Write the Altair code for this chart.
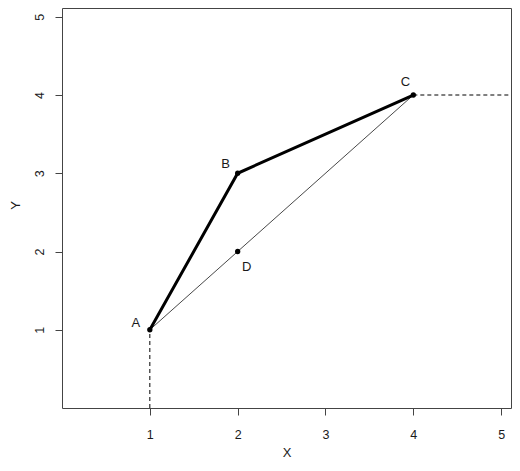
import altair as alt
import pandas as pd

# point data
pt_label = ["A", "B", "C", "D"]
pt_x = [1, 2, 4, 2]
pt_y = [1, 3, 4, 2]

# thick polyline A-B-C
thick_x = [1, 2, 4]
thick_y = [1, 3, 4]
# thin line A-C
thin_x = [1, 4]
thin_y = [1, 4]
# dashed guides
vdash_x = [1, 1]
vdash_y = [0, 1]
hdash_x = [4, 5.112]
hdash_y = [4, 4]

x_ticks = [1, 2, 3, 4, 5]
y_ticks = [1, 2, 3, 4, 5]

FONT = "Liberation Sans"
TXT = "#1a1a1a"
AX = "#444444"

pts = pd.DataFrame({"label": pt_label, "x": pt_x, "y": pt_y})
thick = pd.DataFrame({"x": thick_x, "y": thick_y, "o": list(range(len(thick_x)))})
thin = pd.DataFrame({"x": thin_x, "y": thin_y})
vd = pd.DataFrame({"x": vdash_x, "y": vdash_y})
hd = pd.DataFrame({"x": hdash_x, "y": hdash_y})

xs = alt.Scale(domain=[0, 5.112], nice=False, zero=False)
ys = alt.Scale(domain=[0, 5.112], nice=False, zero=False)

xax = alt.Axis(values=x_ticks, format="d", title="X", grid=False, domain=False,
               tickSize=7, tickColor=AX, labelFont=FONT, labelFontSize=12.5,
               labelColor=TXT, labelPadding=13, labelBaseline="top",
               titleFont=FONT, titleFontSize=13, titleFontWeight="normal",
               titleColor=TXT, titleY=44, titleBaseline="middle")
yax = alt.Axis(values=y_ticks, format="d", title="Y", grid=False, domain=False,
               tickSize=7, tickColor=AX, labelFont=FONT, labelFontSize=12.5,
               labelColor=TXT, labelAngle=270, labelAlign="center",
               labelBaseline="alphabetic", labelPadding=12,
               titleFont=FONT, titleFontSize=13, titleFontWeight="normal",
               titleColor=TXT, titleAngle=270, titleX=-47, titleY=197,
               titleAlign="center", titleBaseline="middle")

X = alt.X("x:Q", scale=xs, axis=xax)
Y = alt.Y("y:Q", scale=ys, axis=yax)
Xn = alt.X("x:Q", scale=xs)
Yn = alt.Y("y:Q", scale=ys)

thin_l = alt.Chart(thin).mark_line(color="#333333", strokeWidth=0.9).encode(x=X, y=Y)
thick_l = alt.Chart(thick).mark_line(color="black", strokeWidth=3).encode(x=Xn, y=Yn, order="o:Q")
vd_l = alt.Chart(vd).mark_line(color="black", strokeWidth=1, strokeDash=[4, 3]).encode(x=Xn, y=Yn)
hd_l = alt.Chart(hd).mark_line(color="black", strokeWidth=1, strokeDash=[4, 3]).encode(x=Xn, y=Yn)
points = alt.Chart(pts).mark_circle(color="black", size=28, opacity=1).encode(x=Xn, y=Yn)

offsets = {"A": (-14, -7), "B": (-12, -9), "C": (-8, -13), "D": (9, 15)}
texts = []
for lab in pt_label:
    dx, dy = offsets[lab]
    texts.append(
        alt.Chart(pts).transform_filter(alt.datum.label == lab)
        .mark_text(font=FONT, fontSize=13, color=TXT, dx=dx, dy=dy,
                   align="center", baseline="middle")
        .encode(x=Xn, y=Yn, text="label:N")
    )

chart = alt.layer(thin_l, thick_l, vd_l, hd_l, points, *texts).properties(
    width=449, height=400,
    background="white",
    autosize=alt.AutoSizeParams(type="none"),
    padding={"left": 54, "top": 0, "right": 1, "bottom": 52},
).configure_view(stroke=AX, strokeWidth=1)

chart.save("out.html", embed_options={"renderer": "svg", "actions": False})
